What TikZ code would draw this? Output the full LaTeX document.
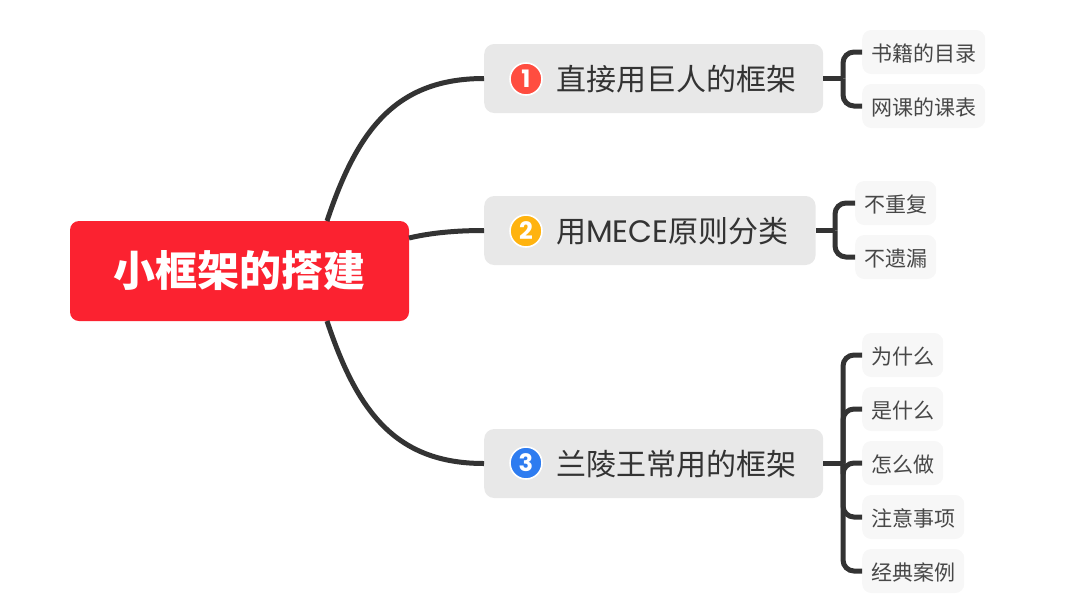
\documentclass[tikz,border=0pt]{standalone}
\usepackage{fontspec}
\setmainfont{Noto Sans CJK SC}
\newfontfamily\latinfont{Poppins}
\definecolor{rootred}{HTML}{FB2230}
\definecolor{inkgray}{HTML}{333333}
\definecolor{branchgray}{HTML}{E8E8E8}
\definecolor{leafgray}{HTML}{F7F7F7}
\definecolor{numred}{HTML}{FF4D40}
\definecolor{numamber}{HTML}{FFB30F}
\definecolor{numblue}{HTML}{2E7CF0}
\begin{document}
\begin{tikzpicture}[
    x=1pt, y=-1pt,
    root/.style={fill=rootred, text=white, rounded corners=9pt, inner sep=0pt, minimum width=339pt, minimum height=100pt, font=\fontsize{42}{50}\selectfont\bfseries},
    branch/.style={fill=branchgray, text=inkgray, rounded corners=10pt, anchor=west, inner xsep=0pt, inner ysep=0pt, text height=24pt, text depth=0pt, minimum height=69pt, font=\fontsize{30}{36}\selectfont},
    leaf/.style={fill=leafgray, text=inkgray!90, rounded corners=9pt, anchor=west, inner xsep=9pt, inner ysep=0pt, text height=18pt, text depth=0pt, minimum height=44pt, font=\fontsize{21}{25}\selectfont},
    num/.style={circle, draw=white, line width=1.6pt, text=white, inner sep=0pt, minimum size=32pt, font=\fontsize{24}{28}\selectfont\latinfont\bfseries},
    trunk/.style={draw=inkgray, line width=5pt},
    twig/.style={draw=inkgray, line width=5pt, rounded corners=11pt},
]
    \useasboundingbox (0,0) rectangle (1067,611);
    % Root
    \node[root] (root) at (239.5,271) {小框架的搭建};
    \coordinate (rootup) at (327,221);
    \coordinate (rootdown) at (327,321);
    \coordinate (rootside) at (409,238);
    % Branches
    \node[branch] (frame) at (484,78.5) {\hspace*{72pt}直接用巨人的框架\hspace*{27pt}\null};
    \node[branch] (mece) at (484,230.5) {\hspace*{72pt}用{\latinfont\fontsize{31}{36}\selectfont MECE}原则分类\hspace*{27pt}\null};
    \node[branch] (wang) at (484,463.5) {\hspace*{72pt}兰陵王常用的框架\hspace*{27pt}\null};
    \node[num, fill=numred] (numa) at (526,79) {1};
    \node[num, fill=numamber] (numb) at (526,231) {2};
    \node[num, fill=numblue] (numc) at (526,463) {3};
    % Trunk curves
    \draw[trunk] (rootup) .. controls (357,131) and (395,78.5) .. (frame.west);
    \draw[trunk] (rootside) .. controls (430,233) and (455,230.5) .. (mece.west);
    \draw[trunk] (rootdown) .. controls (357,411) and (395,463.5) .. (wang.west);
    % Leaves of frame
    \coordinate (forka) at (843,78.5);
    \draw[trunk] (frame.east) -- (forka);
    \foreach \name/\y/\txt in {book/52/书籍的目录, course/106/网课的课表} {
        \node[leaf] (\name) at (862,\y) {\txt};
        \draw[twig] (forka) |- (\name.west);
    }
    % Leaves of mece
    \coordinate (forkb) at (835,230.5);
    \draw[trunk] (mece.east) -- (forkb);
    \foreach \name/\y/\txt in {norepeat/203/不重复, nomiss/257/不遗漏} {
        \node[leaf] (\name) at (855,\y) {\txt};
        \draw[twig] (forkb) |- (\name.west);
    }
    % Leaves of wang
    \coordinate (forkc) at (843,463.5);
    \draw[trunk] (wang.east) -- (forkc);
    \foreach \name/\y/\txt in {why/355/为什么, what/409/是什么, how/463/怎么做, note/517/注意事项, case/571/经典案例} {
        \node[leaf] (\name) at (862,\y) {\txt};
        \draw[twig] (forkc) |- (\name.west);
    }
\end{tikzpicture}
\end{document}
